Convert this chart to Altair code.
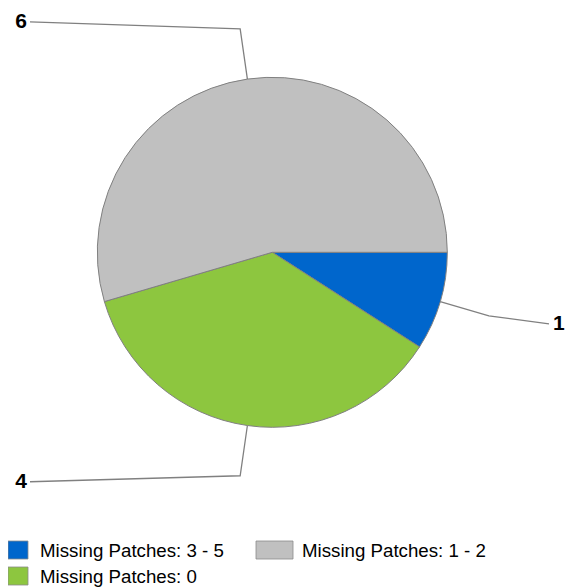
import math
import altair as alt
import pandas as pd

# ---- data ----
categories = ["Missing Patches: 3 - 5", "Missing Patches: 0", "Missing Patches: 1 - 2"]
values = [1, 4, 6]
colors = ["#0066CC", "#8DC63F", "#C0C0C0"]
legend_order = ["Missing Patches: 3 - 5", "Missing Patches: 1 - 2", "Missing Patches: 0"]

# ---- layout (view pixel coordinates) ----
W, H = 558, 580
CX, CY, R = 264.3, 244.3, 175
ELBOW = 1.29
LEFT_END, RIGHT_END = 22, 541
label_dy = {"Missing Patches: 3 - 5": 8, "Missing Patches: 0": 6, "Missing Patches: 1 - 2": -7}
FONT = "Liberation Sans"

total = sum(values)
pie_df = pd.DataFrame({"category": categories, "value": values, "order": list(range(len(values)))})

start = math.pi / 2  # slices start at 3 o'clock, clockwise
line_rows, label_rows = [], []
cum = 0
for cat, v in zip(categories, values):
    mid = start + 2 * math.pi * (cum + v / 2) / total
    cum += v
    sx, sy = CX + R * math.sin(mid), CY - R * math.cos(mid)
    ex, ey = CX + ELBOW * R * math.sin(mid), CY - ELBOW * R * math.cos(mid)
    right = math.sin(mid) > 0
    lx = RIGHT_END if right else LEFT_END
    ly = ey + label_dy[cat]
    for i, (px, py) in enumerate([(sx, sy), (ex, ey), (lx, ly)]):
        line_rows.append({"category": cat, "i": i, "x": px, "y": py})
    label_rows.append({"category": cat, "text": str(v),
                       "x": lx + 4 if right else lx - 3, "y": ly,
                       "side": "right" if right else "left"})
lines_df = pd.DataFrame(line_rows)
labels_df = pd.DataFrame(label_rows)

# legend rows (two columns)
leg_rows = []
for k, cat in enumerate(legend_order):
    col, row = k % 2, k // 2
    x0 = 0 if col == 0 else 248
    y0 = 533 + row * 26
    leg_rows.append({"category": cat, "x": x0, "x2": x0 + (20 if col == 0 else 37),
                     "y": y0, "y2": y0 + 18,
                     "tx": x0 + (32 if col == 0 else 46), "ty": y0 + 9.5})
leg_df = pd.DataFrame(leg_rows)

color_scale = alt.Scale(domain=categories, range=colors)

pie = alt.Chart(pie_df).mark_arc(radius=R, stroke="#808080", strokeWidth=1).encode(
    theta=alt.Theta("value:Q", stack=True, scale=alt.Scale(range=[math.pi / 2, math.pi / 2 + 2 * math.pi])),
    color=alt.Color("category:N", scale=color_scale, legend=None),
    order=alt.Order("order:Q"),
    x=alt.value(CX),
    y=alt.value(CY),
)

leaders = alt.Chart(lines_df).mark_line(color="#808080", strokeWidth=1.3).encode(
    x=alt.X("x:Q", scale=None, axis=None),
    y=alt.Y("y:Q", scale=None, axis=None),
    detail="category:N",
    order="i:Q",
)

lab_left = alt.Chart(labels_df).transform_filter(alt.datum.side == "left").mark_text(
    align="right", baseline="middle", font=FONT, fontSize=21, fontWeight="bold", color="#000000"
).encode(x=alt.X("x:Q", scale=None, axis=None), y=alt.Y("y:Q", scale=None, axis=None), text="text:N")

lab_right = alt.Chart(labels_df).transform_filter(alt.datum.side == "right").mark_text(
    align="left", baseline="middle", font=FONT, fontSize=21, fontWeight="bold", color="#000000"
).encode(x=alt.X("x:Q", scale=None, axis=None), y=alt.Y("y:Q", scale=None, axis=None), text="text:N")

leg_rect = alt.Chart(leg_df).mark_rect(stroke="#8a8a8a", strokeWidth=0.8).encode(
    x=alt.X("x:Q", scale=None, axis=None), x2="x2:Q",
    y=alt.Y("y:Q", scale=None, axis=None), y2="y2:Q",
    color=alt.Color("category:N", scale=color_scale, legend=None),
)

leg_text = alt.Chart(leg_df).mark_text(
    align="left", baseline="middle", font=FONT, fontSize=18.7, color="#000000"
).encode(x=alt.X("tx:Q", scale=None, axis=None), y=alt.Y("ty:Q", scale=None, axis=None), text="category:N")

chart = alt.layer(pie, leaders, lab_left, lab_right, leg_rect, leg_text).properties(
    width=W, height=H, autosize=alt.AutoSizeParams(type="none"), padding=0
).configure_view(stroke=None)

chart.save("out.html", embed_options={"renderer": "svg", "actions": False})
